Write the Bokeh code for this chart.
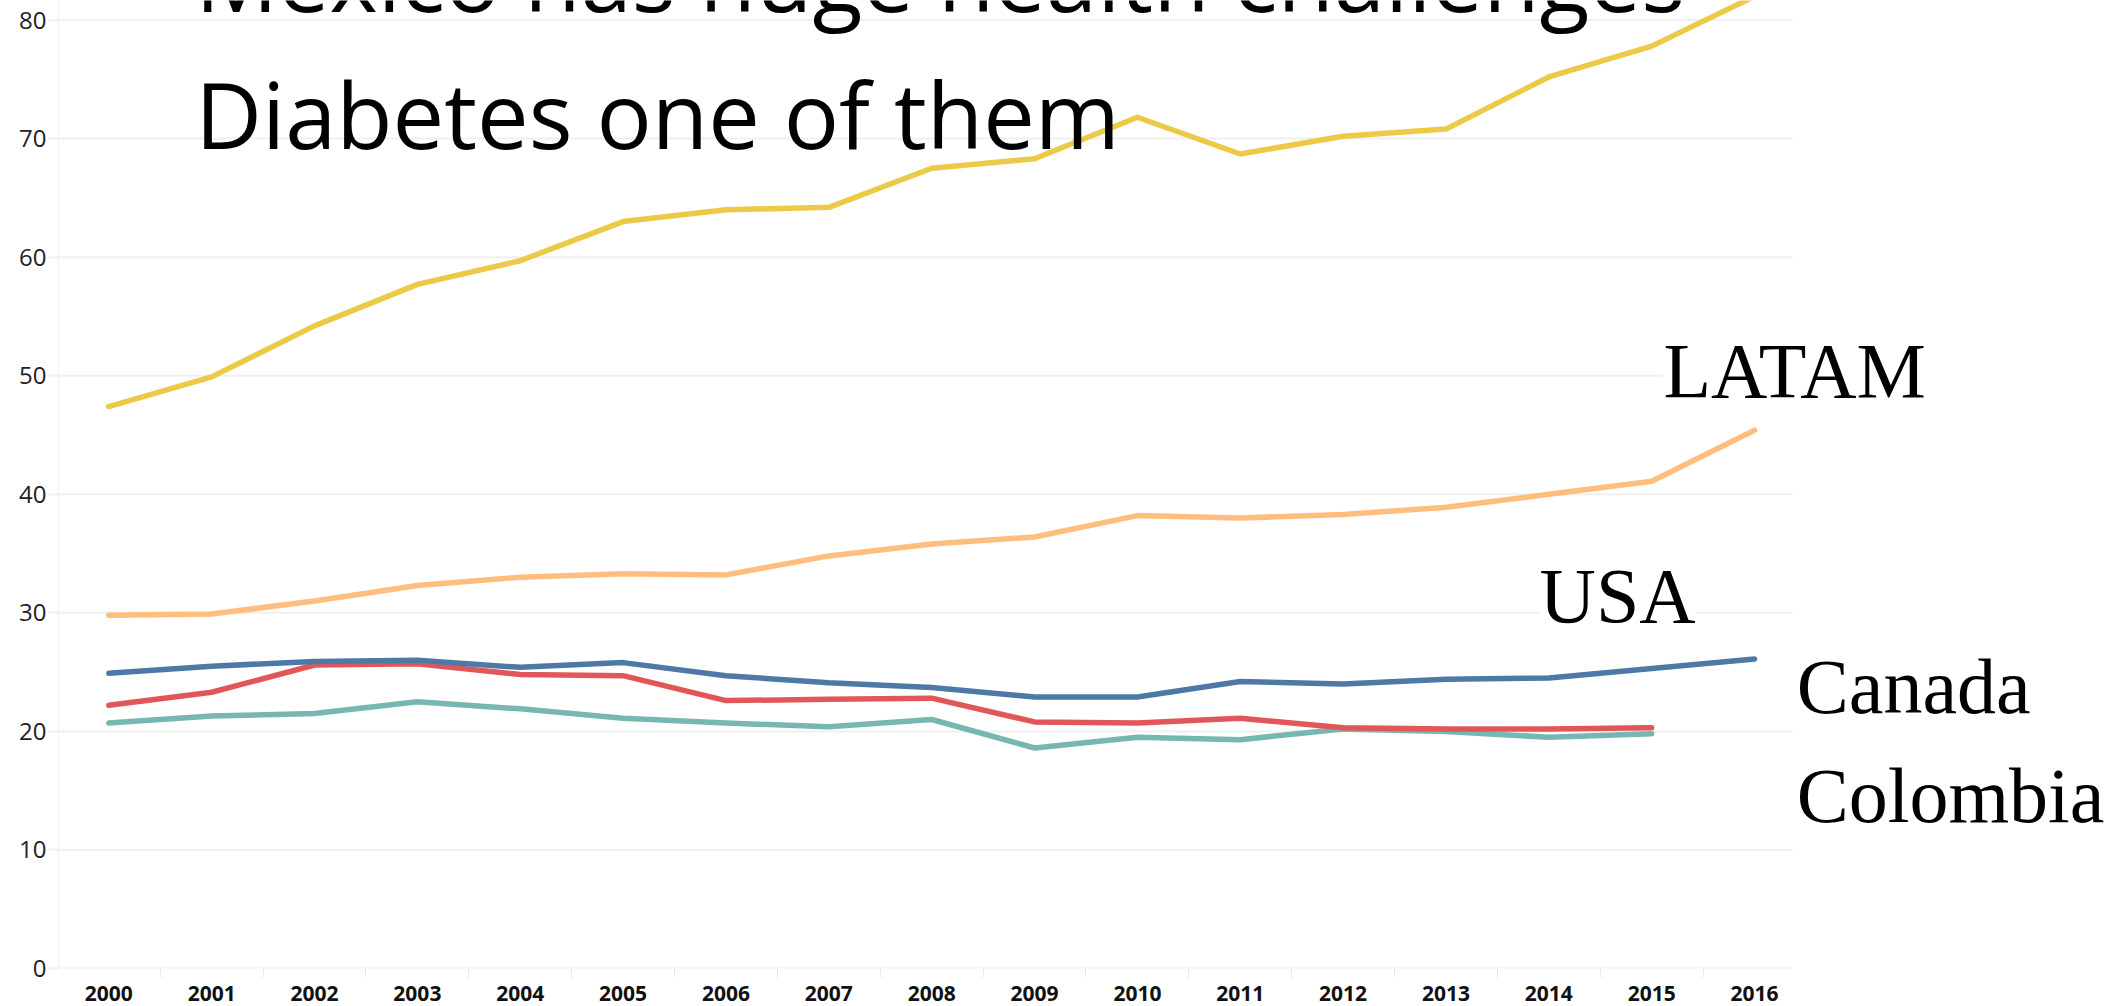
from bokeh.plotting import figure
from bokeh.models import Label, FixedTicker, Range1d
from bokeh.embed import file_html
from bokeh.resources import INLINE

years = list(range(2000, 2017))
years_short = list(range(2000, 2016))
mexico = [47.4, 49.9, 54.2, 57.7, 59.7, 63.0, 64.0, 64.2, 67.5, 68.3, 71.8, 68.7, 70.2, 70.8, 75.2, 77.8, 82.0]
latam = [29.8, 29.9, 31.0, 32.3, 33.0, 33.3, 33.2, 34.8, 35.8, 36.4, 38.2, 38.0, 38.3, 38.9, 40.0, 41.1, 45.4]
usa = [24.9, 25.5, 25.9, 26.0, 25.4, 25.8, 24.7, 24.1, 23.7, 22.9, 22.9, 24.2, 24.0, 24.4, 24.5, 25.3, 26.1]
canada = [22.2, 23.3, 25.6, 25.7, 24.8, 24.7, 22.6, 22.7, 22.8, 20.8, 20.7, 21.1, 20.3, 20.2, 20.2, 20.3]
colombia = [20.7, 21.3, 21.5, 22.5, 21.9, 21.1, 20.7, 20.4, 21.0, 18.6, 19.5, 19.3, 20.2, 20.0, 19.5, 19.8]
y_ticks = [0, 10, 20, 30, 40, 50, 60, 70, 80]
title_lines = ["Mexico has huge health challenges", "Diabetes one of them"]
series_names = ["LATAM", "USA", "Canada", "Colombia"]

GRID = "#f0f0f0"
X0, XEND = 1999.511, 2016.369   # visible plotting band (Tableau pane)

p = figure(
    frame_width=2062, frame_height=968,
    x_range=Range1d(X0, X0 + 2062 / 102.86), y_range=Range1d(0, 968 / 11.856),
    output_backend="svg", toolbar_location=None,
    min_border_left=58, min_border_right=0, min_border_top=0, min_border_bottom=38,
    background_fill_color="white", border_fill_color="white",
)
p.outline_line_color = None
p.xgrid.grid_line_color = None
p.ygrid.grid_line_color = None

# horizontal gridlines limited to the pane
n = len(y_ticks)
p.segment(x0=[X0] * n, y0=y_ticks, x1=[XEND] * n, y1=y_ticks,
          line_color=GRID, line_width=2, level="underlay")

# x axis
p.xaxis.ticker = FixedTicker(ticks=years, minor_ticks=[y - 0.5 for y in years])
p.xaxis.major_tick_line_color = None
p.xaxis.major_tick_out = 0
p.xaxis.major_tick_in = 0
p.xaxis.minor_tick_line_color = "#e6e6e6"
p.xaxis.minor_tick_out = 9
p.xaxis.minor_tick_in = 0
p.xaxis.minor_tick_line_width = 1
p.xaxis.axis_line_color = None
p.xaxis.major_label_text_font = "Open Sans"
p.xaxis.major_label_text_font_style = "bold"
p.xaxis.major_label_text_font_size = "21px"
p.xaxis.major_label_text_color = "#111111"
p.xaxis.major_label_standoff = 8

# y axis
p.yaxis.ticker = FixedTicker(ticks=y_ticks)
p.yaxis.major_tick_out = 10
p.yaxis.major_tick_in = 0
p.yaxis.major_tick_line_color = GRID
p.yaxis.major_tick_line_width = 2
p.yaxis.minor_tick_line_color = None
p.yaxis.axis_line_color = "#f3f3f3"
p.yaxis.major_label_text_font = "Open Sans"
p.yaxis.major_label_text_font_size = "24px"
p.yaxis.major_label_text_color = "#222222"
p.yaxis.major_label_standoff = 2

lw = 5.5
kw = dict(line_width=lw, line_cap="round", line_join="round")
p.line(years_short, colombia, line_color="#76b7b2", **kw)
p.line(years_short, canada, line_color="#e15759", **kw)
p.line(years, usa, line_color="#4e79a7", **kw)
p.line(years, latam, line_color="#ffbe7d", **kw)
p.line(years, mexico, line_color="#edc948", **kw)

# title text
for txt, yy in zip(title_lines, [83.69, 72.14]):
    p.add_layout(Label(x=2000.84, y=yy, text=txt, text_font="Open Sans",
                       text_font_size="92px", text_color="black",
                       text_baseline="alphabetic", text_align="left"))

# series labels
pos = [(2015.114, 50.47, True), (2013.91, 31.49, True), (2016.41, 23.81, False), (2016.41, 14.62, False)]
for name, (xx, yy, bg) in zip(series_names, pos):
    extra = dict(background_fill_color="white", level="underlay") if bg else {}
    p.add_layout(Label(x=xx, y=yy, text=name, text_font="Liberation Serif",
                       text_font_size="78px", text_color="black",
                       text_baseline="alphabetic", text_align="left", **extra))

open("out.html", "w").write(file_html(p, INLINE))
